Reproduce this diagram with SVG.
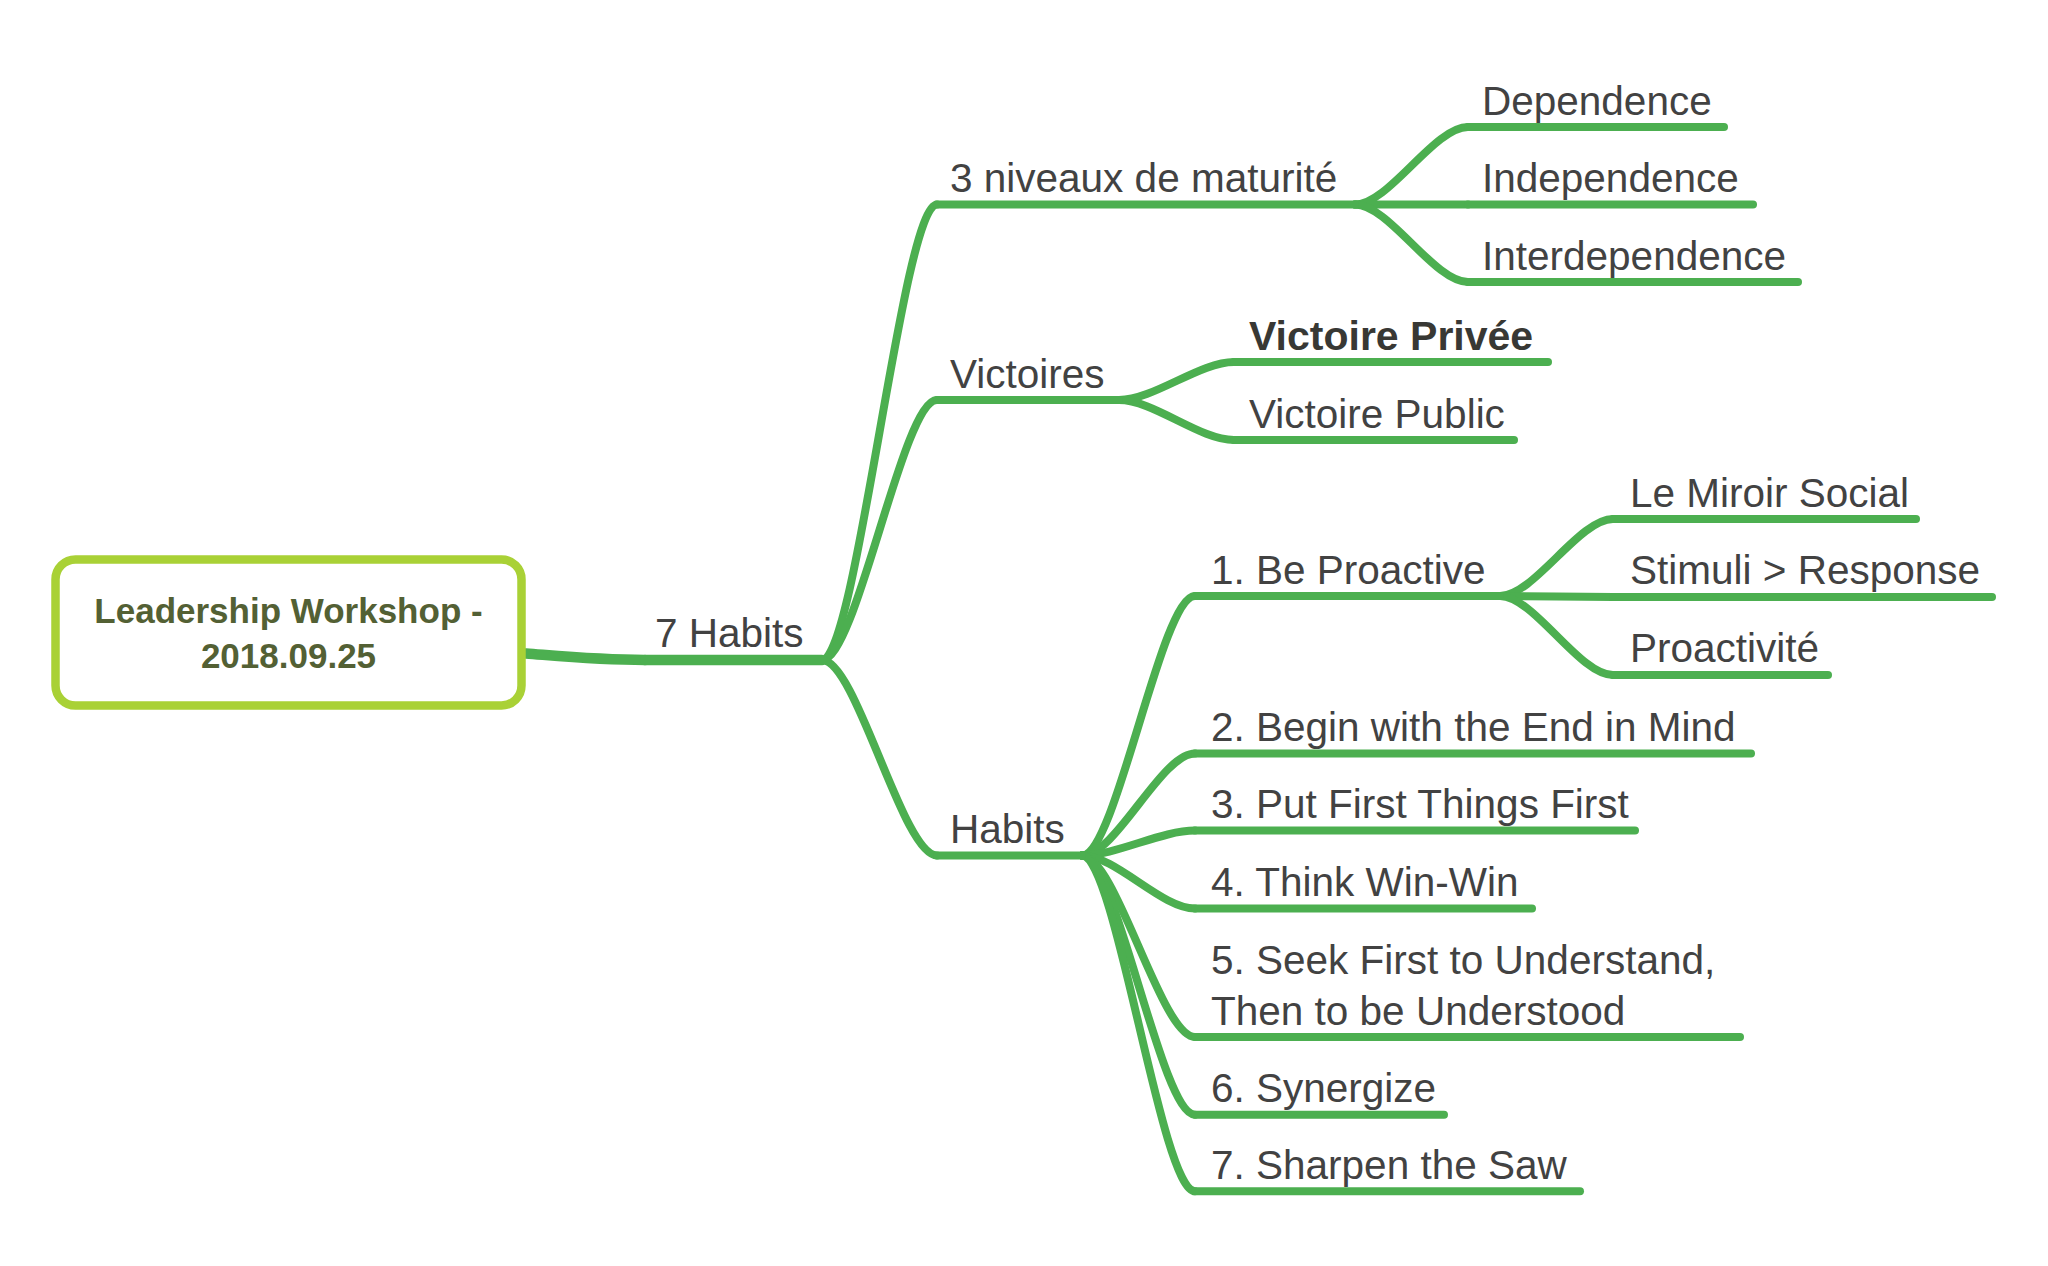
<svg xmlns="http://www.w3.org/2000/svg" width="2048" height="1266" viewBox="0 0 2048 1266">
<style>
.lbl{font-family:"Liberation Sans",Arial,sans-serif;font-size:40.5px;fill:#424242}
.b{font-weight:bold;fill:#383834;font-size:41px}
.ctr{font-family:"Liberation Sans",Arial,sans-serif;font-size:35px;font-weight:bold;fill:#536034;text-anchor:middle}
.ln{fill:none;stroke:#4CAF50;stroke-width:8;stroke-linecap:round;stroke-linejoin:round}
.trunk{fill:none;stroke:#4CAF50;stroke-width:10.5;stroke-linecap:round}
</style>
<rect width="2048" height="1266" fill="#ffffff"/>
<g id="connectors">
<path class="trunk" d="M526,653.5 C570,657 600,660 645,660"/>
<path class="ln" d="M822,660 C856.5,660 902.5,204.5 937,204.5"/>
<path class="ln" d="M822,660 C856.5,660 902.5,400 937,400"/>
<path class="ln" d="M822,660 C856.5,660 902.5,855.5 937,855.5"/>
<path class="ln" d="M1355,204.5 C1389,204.5 1434,127 1468,127"/>
<path class="ln" d="M1355,204.5 H1468"/>
<path class="ln" d="M1355,204.5 C1389,204.5 1434,282 1468,282"/>
<path class="ln" d="M1119,400 C1153.5,400 1199.5,362 1234,362"/>
<path class="ln" d="M1119,400 C1153.5,400 1199.5,440 1234,440"/>
<path class="ln" d="M1082,855.5 C1116,855.5 1161,596 1195,596"/>
<path class="ln" d="M1082,855.5 C1116,855.5 1161,753.6 1195,753.6"/>
<path class="ln" d="M1082,855.5 C1116,855.5 1161,830.6 1195,830.6"/>
<path class="ln" d="M1082,855.5 C1116,855.5 1161,908.5 1195,908.5"/>
<path class="ln" d="M1082,855.5 C1116,855.5 1161,1037 1195,1037"/>
<path class="ln" d="M1082,855.5 C1116,855.5 1161,1114.7 1195,1114.7"/>
<path class="ln" d="M1082,855.5 C1116,855.5 1161,1191.3 1195,1191.3"/>
<path class="ln" d="M1500,596 C1534,596 1579,519 1613,519"/>
<path class="ln" d="M1500,596 C1534,596 1579,597 1613,597"/>
<path class="ln" d="M1500,596 C1534,596 1579,675 1613,675"/>
</g>
<g id="central">
<rect x="55.5" y="559.5" width="466" height="146" rx="20" fill="#ffffff" stroke="#A9D136" stroke-width="8.5"/>
<text class="ctr" x="288.5" y="623">Leadership Workshop -</text>
<text class="ctr" x="288.5" y="668">2018.09.25</text>
</g>
<g id="n-7habits">
<path class="trunk" d="M645,660 H822"/>
<text class="lbl" x="655" y="647">7 Habits</text>
</g>
<g id="n-niveaux">
<path class="ln" d="M937,204.5 H1355"/>
<text class="lbl" x="950" y="192">3 niveaux de maturité</text>
</g>
<g id="n-dependence">
<path class="ln" d="M1468,127 H1724"/>
<text class="lbl" x="1482" y="114.5">Dependence</text>
</g>
<g id="n-independence">
<path class="ln" d="M1468,204.5 H1753"/>
<text class="lbl" x="1482" y="192">Independence</text>
</g>
<g id="n-interdependence">
<path class="ln" d="M1468,282 H1798"/>
<text class="lbl" x="1482" y="269.5">Interdependence</text>
</g>
<g id="n-victoires">
<path class="ln" d="M937,400 H1119"/>
<text class="lbl" x="950" y="388">Victoires</text>
</g>
<g id="n-privee">
<path class="ln" d="M1234,362 H1548"/>
<text class="lbl b" x="1249" y="349.5">Victoire Privée</text>
</g>
<g id="n-public">
<path class="ln" d="M1234,440 H1514"/>
<text class="lbl" x="1249" y="427.5">Victoire Public</text>
</g>
<g id="n-habits">
<path class="ln" d="M937,855.5 H1082"/>
<text class="lbl" x="950" y="843">Habits</text>
</g>
<g id="n-h1">
<path class="ln" d="M1195,596 H1500"/>
<text class="lbl" x="1211" y="583.5">1. Be Proactive</text>
</g>
<g id="n-miroir">
<path class="ln" d="M1613,519 H1916"/>
<text class="lbl" x="1630" y="506.5">Le Miroir Social</text>
</g>
<g id="n-stimuli">
<path class="ln" d="M1613,597 H1992"/>
<text class="lbl" x="1630" y="584">Stimuli &gt; Response</text>
</g>
<g id="n-proactivite">
<path class="ln" d="M1613,675 H1828"/>
<text class="lbl" x="1630" y="662">Proactivité</text>
</g>
<g id="n-h2">
<path class="ln" d="M1195,753.6 H1751"/>
<text class="lbl" x="1211" y="741">2. Begin with the End in Mind</text>
</g>
<g id="n-h3">
<path class="ln" d="M1195,830.6 H1635"/>
<text class="lbl" x="1211" y="818">3. Put First Things First</text>
</g>
<g id="n-h4">
<path class="ln" d="M1195,908.5 H1532"/>
<text class="lbl" x="1211" y="896">4. Think Win-Win</text>
</g>
<g id="n-h5">
<path class="ln" d="M1195,1037 H1740"/>
<text class="lbl" x="1211" y="974">5. Seek First to Understand,</text>
<text class="lbl" x="1211" y="1024.5">Then to be Understood</text>
</g>
<g id="n-h6">
<path class="ln" d="M1195,1114.7 H1444"/>
<text class="lbl" x="1211" y="1102">6. Synergize</text>
</g>
<g id="n-h7">
<path class="ln" d="M1195,1191.3 H1580"/>
<text class="lbl" x="1211" y="1179">7. Sharpen the Saw</text>
</g>
</svg>
